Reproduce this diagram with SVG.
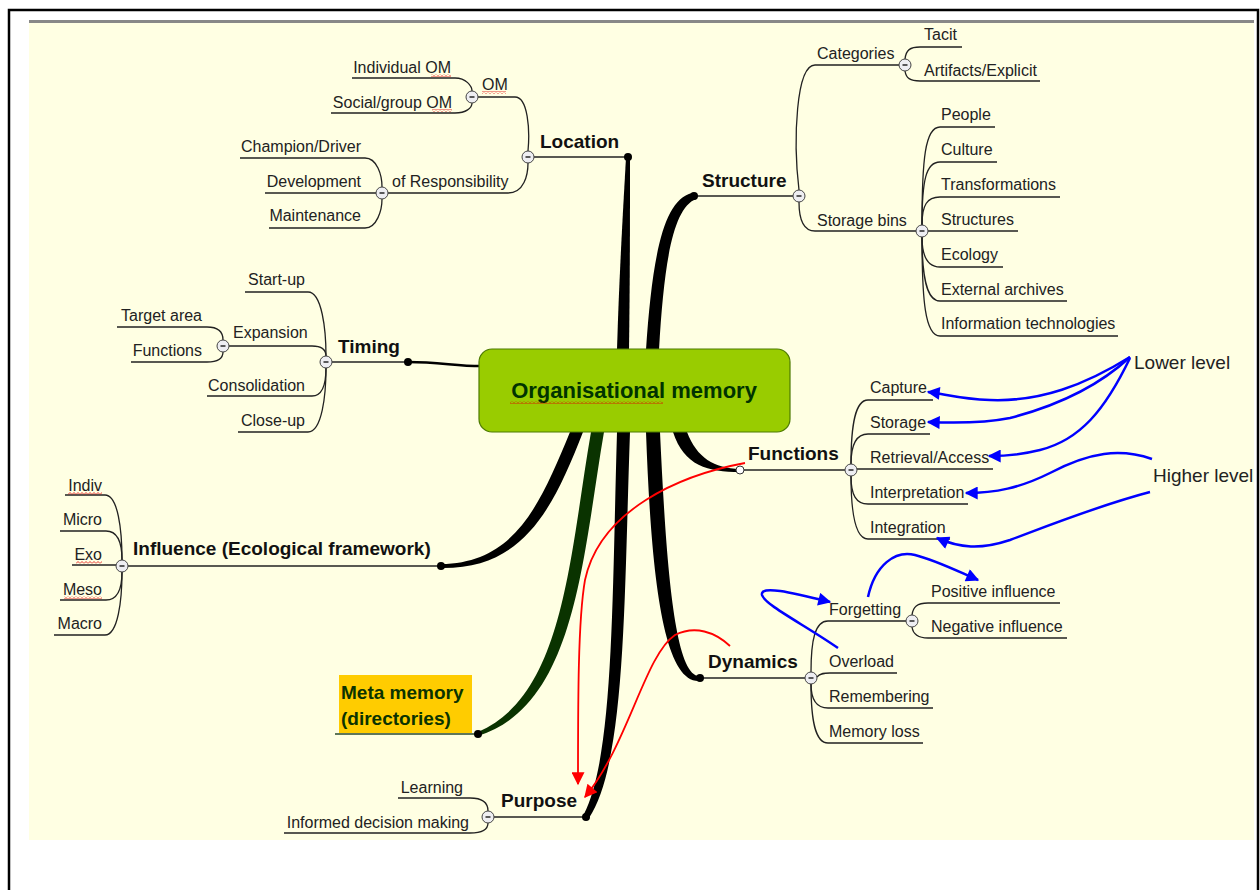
<svg xmlns="http://www.w3.org/2000/svg" width="1260" height="890" viewBox="0 0 1260 890">
<style>
text{font-family:"Liberation Sans",Arial,sans-serif;fill:#222}
.s{font-size:16px}
.b{font-size:19px;font-weight:bold;fill:#111}
.e{text-anchor:end}
.ln{fill:none;stroke:#222;stroke-width:1.3}
.btn{fill:#eeeef2;stroke:#444;stroke-width:1}
.mn{stroke:#333;stroke-width:1.6}
.dot{fill:#000}
.blue{fill:none;stroke:#0000ff;stroke-width:2.5;marker-end:url(#ab)}
.red{fill:none;stroke:#ff0000;stroke-width:1.8;marker-end:url(#ar)}
.lvl{font-size:19px;fill:#222}
</style>
<defs>
<marker id="ar" viewBox="0 0 10 10" refX="9" refY="5" markerWidth="15" markerHeight="13" markerUnits="userSpaceOnUse" orient="auto"><path d="M0,0 L10,5 L0,10 Z" fill="#ff0000"/></marker>
<marker id="ab" viewBox="0 0 10 10" refX="9" refY="5" markerWidth="15" markerHeight="13" markerUnits="userSpaceOnUse" orient="auto"><path d="M0,0 L10,5 L0,10 Z" fill="#0000ff"/></marker>
<pattern id="sq" width="4" height="3" patternUnits="userSpaceOnUse"><path d="M0,2.5 L2,0.5 L4,2.5" fill="none" stroke="#e00000" stroke-width="0.8"/></pattern>
</defs>
<rect x="0" y="0" width="1260" height="890" fill="#ffffff"/>
<rect x="29" y="23" width="1225" height="817" fill="#ffffe3"/>
<line x1="29" y1="21.5" x2="1254" y2="21.5" stroke="#888" stroke-width="3"/>
<path d="M9,890 L9,10 L1258,10 L1258,890" fill="none" stroke="#000" stroke-width="2.5"/>

<g id="connectors">
<!-- main tapered branches -->
<path d="M617,350 C619,280 623,210 626,158 L630,158 C630,210 630,280 629,350 Z" fill="#000"/>
<path d="M646,350 C652,262 662,200 692,193 L696,199 C673,208 664,262 659,350 Z" fill="#000"/>
<path d="M570,432 C540,505 515,563 441,564 L441,568 C522,569 552,512 583,432 Z" fill="#000"/>
<path d="M591,432 C569,560 564,695 478,732 L478,736 C576,705 582,560 604,432 Z" fill="#0a3300"/>
<path d="M617,432 C612,600 614,755 584,814 L589,818 C626,762 624,600 630,432 Z" fill="#000"/>
<path d="M646,432 C651,570 662,684 700,681 L700,676 C674,678 666,560 660,432 Z" fill="#000"/>
<path d="M673,432 C684,466 708,472 740,472 L740,469 C714,468 697,458 687,432 Z" fill="#000"/>
<path d="M408,362 C440,362 455,366 481,366" fill="none" stroke="#000" stroke-width="2.5"/>

<!-- Location -->
<path class="ln" d="M352,78 L455,78 C466,78 472,86 472,91"/>
<path class="ln" d="M331,113 L455,113 C466,113 472,108 472,103"/>
<path class="ln" d="M478,97 L515,97 C528,97 530,130 528,151"/>
<path class="ln" d="M388,193 L508,193 C524,193 528,175 528,163"/>
<path class="ln" d="M534,157 L628,157"/>
<path class="ln" d="M240,158 L365,158 C377,158 382,175 382,187"/>
<path class="ln" d="M265,193 L376,193"/>
<path class="ln" d="M269,228 L365,228 C377,228 382,210 382,199"/>
<!-- Timing -->
<path class="ln" d="M245,292 L308,292 C322,292 326,330 326,356"/>
<path class="ln" d="M229,346 L312,346 Q326,346 326,356"/>
<path class="ln" d="M207,396 L312,396 Q326,396 326,368"/>
<path class="ln" d="M238,432 L308,432 C322,432 326,395 326,368"/>
<path class="ln" d="M332,362 L408,362"/>
<path class="ln" d="M117,327 L207,327 Q223,327 223,340"/>
<path class="ln" d="M131,362 L207,362 Q223,362 223,352"/>
<!-- Influence -->
<path class="ln" d="M65,495 L105,495 C118,495 122,530 122,560"/>
<path class="ln" d="M60,531 L106,531 Q122,531 122,560"/>
<path class="ln" d="M72,565 L116,565"/>
<path class="ln" d="M60,600 L106,600 Q122,600 122,572"/>
<path class="ln" d="M54,635 L105,635 C118,635 122,600 122,572"/>
<path class="ln" d="M128,566 L441,566"/>
<!-- Purpose / Meta -->
<path class="ln" d="M398,798 L470,798 Q488,798 488,811"/>
<path class="ln" d="M284,833 L470,833 Q488,833 488,823"/>
<path class="ln" d="M494,817 L586,817"/>
<path d="M335,734 L478,734" fill="none" stroke="#2a4a2a" stroke-width="1.5"/>
<!-- Structure -->
<path class="ln" d="M694,196 L793,196"/>
<path class="ln" d="M799,190 C793,140 796,65 815,65 L899,65"/>
<path class="ln" d="M799,202 C799,220 803,231 815,231 L916,231"/>
<path class="ln" d="M905,59 C906,50 910,47 920,47 L962,47"/>
<path class="ln" d="M905,71 C906,78 910,81 920,81 L1040,81"/>
<path class="ln" d="M922,225 C922,160 925,127 940,127 L995,127"/>
<path class="ln" d="M922,225 C922,180 926,162 940,162 L997,162"/>
<path class="ln" d="M922,225 C922,205 927,197 940,197 L1060,197"/>
<path class="ln" d="M928,231 L1018,231"/>
<path class="ln" d="M922,237 C922,255 927,267 940,267 L1003,267"/>
<path class="ln" d="M922,237 C922,275 926,301 940,301 L1067,301"/>
<path class="ln" d="M922,237 C922,300 925,336 940,336 L1118,336"/>
<!-- Functions -->
<path class="ln" d="M740,470 L845,470"/>
<path class="ln" d="M851,464 C851,425 855,400 868,400 L933,400"/>
<path class="ln" d="M851,464 C851,445 856,434 868,434 L930,434"/>
<path class="ln" d="M857,469 L993,469"/>
<path class="ln" d="M851,476 C851,495 856,504 868,504 L968,504"/>
<path class="ln" d="M851,476 C851,510 855,539 868,539 L950,539"/>
<!-- Dynamics -->
<path class="ln" d="M700,678 L805,678"/>
<path class="ln" d="M811,672 C811,640 815,621 828,621 L906,621"/>
<path class="ln" d="M912,615 C913,607 917,603 928,603 L1060,603"/>
<path class="ln" d="M912,627 C913,634 917,638 928,638 L1067,638"/>
<path class="ln" d="M817,677 C820,673 825,673 830,673 L897,673"/>
<path class="ln" d="M811,684 C811,698 815,708 828,708 L933,708"/>
<path class="ln" d="M811,684 C811,720 815,743 828,743 L923,743"/>

<!-- red arrows -->
<path class="red" d="M745,463 C680,475 600,510 585,580 C578,620 578,700 578,784"/>
<path class="red" d="M730,646 C715,632 695,625 675,635 C645,655 628,745 585,797"/>
<!-- blue arrows -->
<path class="blue" d="M1130,357 C1085,385 1040,402 990,400 C960,399 945,394 928,392"/>
<path class="blue" d="M1130,357 C1100,385 1060,405 1010,418 C980,424 950,423 928,422"/>
<path class="blue" d="M1130,358 C1105,410 1080,440 1040,450 C1020,455 1005,456 989,456"/>
<path class="blue" d="M1152,459 C1120,448 1090,452 1050,473 C1020,488 995,493 966,493"/>
<path class="blue" d="M1150,492 C1100,505 1050,525 1010,540 C980,550 960,548 937,538"/>
<path class="blue" d="M838,648 C805,625 765,605 762,595 C760,585 790,592 830,602"/>
<path class="blue" d="M868,597 C875,565 895,550 915,555 C935,560 955,570 978,580"/>
</g>

<g id="center">
<rect x="479" y="349" width="311" height="83" rx="13" fill="#99cc00" stroke="#4d7a00" stroke-width="1.2"/>
<text x="634" y="398" text-anchor="middle" style="font-size:22px;font-weight:bold;fill:#003300">Organisational memory</text>
<rect x="510" y="401" width="153" height="3" fill="url(#sq)"/>
</g>

<g id="location">
<circle class="dot" cx="628" cy="157" r="4"/>
<text class="b" x="540" y="148">Location</text>
<circle class="btn" cx="528" cy="157" r="6"/><line class="mn" x1="525.5" y1="157" x2="530.5" y2="157"/>
<text class="s" x="482" y="90">OM</text>
<rect x="482" y="91" width="24" height="3" fill="url(#sq)"/>
<circle class="btn" cx="472" cy="97" r="6"/><line class="mn" x1="469.5" y1="97" x2="474.5" y2="97"/>
<text class="s e" x="451" y="73">Individual OM</text>
<rect x="431" y="74" width="20" height="3" fill="url(#sq)"/>
<text class="s e" x="452" y="108">Social/group OM</text>
<rect x="432" y="109" width="20" height="3" fill="url(#sq)"/>
<text class="s" x="392" y="187">of Responsibility</text>
<circle class="btn" cx="382" cy="193" r="6"/><line class="mn" x1="379.5" y1="193" x2="384.5" y2="193"/>
<text class="s e" x="361" y="152">Champion/Driver</text>
<text class="s e" x="361" y="187">Development</text>
<text class="s e" x="361" y="221">Maintenance</text>
</g>

<g id="timing">
<circle class="dot" cx="408" cy="362" r="4"/>
<text class="b" x="338" y="353">Timing</text>
<circle class="btn" cx="326" cy="362" r="6"/><line class="mn" x1="323.5" y1="362" x2="328.5" y2="362"/>
<text class="s e" x="305" y="285">Start-up</text>
<text class="s" x="233" y="338">Expansion</text>
<circle class="btn" cx="223" cy="346" r="6"/><line class="mn" x1="220.5" y1="346" x2="225.5" y2="346"/>
<text class="s e" x="202" y="321">Target area</text>
<text class="s e" x="202" y="356">Functions</text>
<text class="s e" x="305" y="391">Consolidation</text>
<text class="s e" x="305" y="426">Close-up</text>
</g>

<g id="influence">
<circle class="dot" cx="441" cy="566" r="4"/>
<text class="b" x="133" y="555">Influence (Ecological framework)</text>
<circle class="btn" cx="122" cy="566" r="6"/><line class="mn" x1="119.5" y1="566" x2="124.5" y2="566"/>
<text class="s e" x="102" y="491">Indiv</text>
<rect x="68" y="492" width="34" height="3" fill="url(#sq)"/>
<text class="s e" x="102" y="525">Micro</text>
<text class="s e" x="102" y="560">Exo</text>
<rect x="76" y="561" width="26" height="3" fill="url(#sq)"/>
<text class="s e" x="102" y="595">Meso</text>
<rect x="64" y="596" width="38" height="3" fill="url(#sq)"/>
<text class="s e" x="102" y="629">Macro</text>
</g>

<g id="meta">
<rect x="339" y="675" width="133" height="58" fill="#ffcc00"/>
<circle class="dot" cx="478" cy="734" r="4"/>
<text x="341" y="699" style="font-size:19px;font-weight:bold;fill:#0a3300">Meta memory</text>
<text x="341" y="725" style="font-size:19px;font-weight:bold;fill:#0a3300">(directories)</text>
</g>

<g id="purpose">
<circle class="dot" cx="586" cy="817" r="4"/>
<text class="b" x="501" y="807">Purpose</text>
<circle class="btn" cx="488" cy="817" r="6"/><line class="mn" x1="485.5" y1="817" x2="490.5" y2="817"/>
<text class="s e" x="463" y="793">Learning</text>
<text class="s e" x="469" y="828">Informed decision making</text>
</g>

<g id="structure">
<circle class="dot" cx="694" cy="196" r="4"/>
<text class="b" x="702" y="187">Structure</text>
<circle class="btn" cx="799" cy="196" r="6"/><line class="mn" x1="796.5" y1="196" x2="801.5" y2="196"/>
<text class="s" x="817" y="59">Categories</text>
<circle class="btn" cx="905" cy="65" r="6"/><line class="mn" x1="902.5" y1="65" x2="907.5" y2="65"/>
<text class="s" x="924" y="40">Tacit</text>
<text class="s" x="924" y="76">Artifacts/Explicit</text>
<text class="s" x="817" y="226">Storage bins</text>
<circle class="btn" cx="922" cy="231" r="6"/><line class="mn" x1="919.5" y1="231" x2="924.5" y2="231"/>
<text class="s" x="941" y="120">People</text>
<text class="s" x="941" y="155">Culture</text>
<text class="s" x="941" y="190">Transformations</text>
<text class="s" x="941" y="225">Structures</text>
<text class="s" x="941" y="260">Ecology</text>
<text class="s" x="941" y="295">External archives</text>
<text class="s" x="941" y="329">Information technologies</text>
</g>

<g id="functions">
<circle cx="740" cy="470" r="4" fill="#fff" stroke="#333" stroke-width="1"/>
<text class="b" x="748" y="460">Functions</text>
<circle class="btn" cx="851" cy="470" r="6"/><line class="mn" x1="848.5" y1="470" x2="853.5" y2="470"/>
<text class="s" x="870" y="393">Capture</text>
<text class="s" x="870" y="428">Storage</text>
<text class="s" x="870" y="463">Retrieval/Access</text>
<text class="s" x="870" y="498">Interpretation</text>
<text class="s" x="870" y="533">Integration</text>
</g>

<g id="dynamics">
<circle class="dot" cx="700" cy="678" r="4"/>
<text class="b" x="708" y="668">Dynamics</text>
<circle class="btn" cx="811" cy="678" r="6"/><line class="mn" x1="808.5" y1="678" x2="813.5" y2="678"/>
<text class="s" x="829" y="615">Forgetting</text>
<circle class="btn" cx="912" cy="621" r="6"/><line class="mn" x1="909.5" y1="621" x2="914.5" y2="621"/>
<text class="s" x="931" y="597">Positive influence</text>
<text class="s" x="931" y="632">Negative influence</text>
<text class="s" x="829" y="667">Overload</text>
<text class="s" x="829" y="702">Remembering</text>
<text class="s" x="829" y="737">Memory loss</text>
</g>

<g id="levels">
<text class="lvl" x="1134" y="369">Lower level</text>
<text class="lvl" x="1153" y="482">Higher level</text>
</g>
</svg>
